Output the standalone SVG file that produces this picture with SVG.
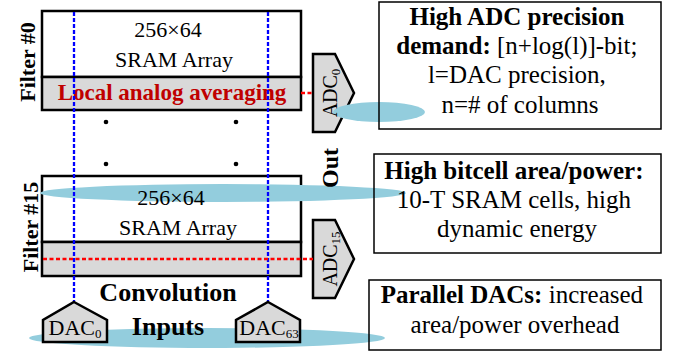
<svg xmlns="http://www.w3.org/2000/svg" width="677" height="351" viewBox="0 0 677 351">
<style>
text{font-family:"Liberation Serif","Times New Roman",serif;fill:#000}
.b{font-weight:bold}
.blk{fill:#fff;stroke:#000;stroke-width:2.5}
.band{fill:#d9d9d9;stroke:#000;stroke-width:2.5}
.shape{fill:#d9d9d9;stroke:#000;stroke-width:2.5;stroke-linejoin:miter}
.hl{fill:#93cddd}
.box{fill:none;stroke:#000;stroke-width:1.5}
.blue{stroke:#0000ff;stroke-width:2.3;stroke-dasharray:4 2;fill:none}
.red{stroke:#ff0000;stroke-width:2.3;stroke-dasharray:4 2.5;fill:none}
.s22{font-size:22px}
.s25{font-size:25px}
</style>
<g id="filter0">
<rect class="blk" x="42" y="11" width="259" height="66"/>
<rect class="band" x="42" y="77" width="259" height="33"/>
</g>
<g id="filter15">
<rect class="blk" x="42" y="176" width="259" height="66"/>
<rect class="band" x="42" y="242" width="259" height="34"/>
</g>
<g id="adc0"><polygon class="shape" points="313,54 335,54 354,93 335,132 313,132"/></g>
<g id="adc15"><polygon class="shape" points="313,220 335,220 354,259 335,298 313,298"/></g>
<g id="highlights">
<ellipse class="hl" cx="379" cy="112" rx="46" ry="10"/>
<ellipse class="hl" cx="223" cy="193" rx="183" ry="9"/>
<ellipse class="hl" cx="207" cy="338" rx="178" ry="10"/>
</g>
<g id="dots">
<circle cx="106" cy="122" r="2.3"/><circle cx="236" cy="122" r="2.3"/>
<circle cx="106" cy="164" r="2.3"/><circle cx="236" cy="164" r="2.3"/>
</g>
<g id="filter0-text">
<text class="s22" x="168" y="37" text-anchor="middle">256×64</text>
<text class="s22" x="174" y="67" text-anchor="middle">SRAM Array</text>
<text class="b" x="172" y="100" text-anchor="middle" font-size="23" style="fill:#c00000">Local analog averaging</text>
<text class="b s22" transform="translate(35,62) rotate(-90)" text-anchor="middle">Filter #0</text>
</g>
<g id="filter15-text">
<text class="s22" x="171" y="205" text-anchor="middle">256×64</text>
<text class="s22" x="178" y="235" text-anchor="middle">SRAM Array</text>
<text class="b s22" transform="translate(38,227) rotate(-90)" text-anchor="middle">Filter #15</text>
</g>
<g id="connectors">
<line class="blue" x1="74" y1="12" x2="74" y2="302"/>
<line class="blue" x1="268" y1="12" x2="268" y2="302"/>
<line class="red" x1="301" y1="93" x2="313" y2="93"/>
<line class="red" x1="43" y1="259" x2="313" y2="259"/>
</g>
<g id="adc-labels">
<text font-size="20" transform="translate(337,93) rotate(-90)" text-anchor="middle">ADC<tspan font-size="13" dy="3">0</tspan></text>
<text font-size="20" transform="translate(337,259) rotate(-90)" text-anchor="middle">ADC<tspan font-size="13" dy="3">15</tspan></text>
<text class="b" font-size="24" transform="translate(338,168) rotate(-90)" text-anchor="middle">Out</text>
</g>
<g id="dac0">
<polygon class="shape" points="74,302 107,320 107,342 43,342 43,320"/>
<text class="s22" x="75" y="335" text-anchor="middle">DAC<tspan font-size="13" dy="3">0</tspan></text>
</g>
<g id="dac63">
<polygon class="shape" points="268,302 300,320 300,342 236,342 236,320"/>
<text class="s22" x="269" y="335" text-anchor="middle">DAC<tspan font-size="13" dy="3">63</tspan></text>
</g>
<g id="conv-inputs">
<text class="b" font-size="26" x="168" y="301" text-anchor="middle">Convolution</text>
<text class="b" font-size="26" x="168" y="335" text-anchor="middle">Inputs</text>
</g>
<g id="box-adc">
<rect class="box" x="379" y="2" width="282" height="127"/>
<text class="s25" x="520" text-anchor="middle">
<tspan class="b" x="520" y="25">High ADC precision</tspan>
<tspan x="520" y="54"><tspan class="b">demand:</tspan> [n+log(l)]-bit;</tspan>
<tspan x="520" y="83">l=DAC precision,</tspan>
<tspan x="520" y="113">n=# of columns</tspan>
</text>
</g>
<g id="box-bitcell">
<rect class="box" x="374" y="154" width="287" height="99"/>
<text class="s25" text-anchor="middle">
<tspan class="b" x="517" y="179">High bitcell area/power:</tspan>
<tspan x="517" y="208">10-T SRAM cells, high</tspan>
<tspan x="517" y="237">dynamic energy</tspan>
</text>
</g>
<g id="box-dac">
<rect class="box" x="369" y="280" width="292" height="70"/>
<text class="s25" text-anchor="middle">
<tspan x="515" y="303"><tspan class="b">Parallel DACs:</tspan> increased</tspan>
<tspan x="515" y="333">area/power overhead</tspan>
</text>
</g>
</svg>
